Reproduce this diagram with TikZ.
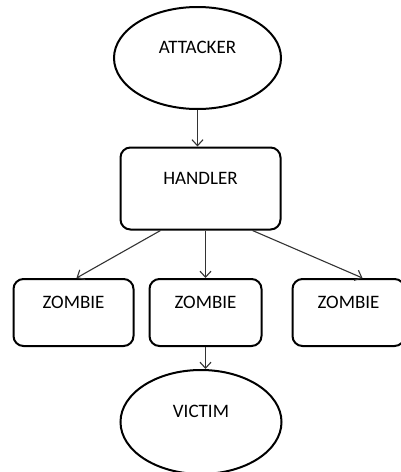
\documentclass[tikz,border=0pt]{standalone}
\usepackage{fontspec}
\setmainfont{Carlito}
\usetikzlibrary{shapes.geometric,arrows.meta}
\tikzset{
  blob/.style={ellipse,draw,line width=2pt,inner sep=0pt,text depth=22pt,
    font=\fontsize{19}{21}\selectfont},
  box/.style={rectangle,rounded corners=10pt,draw,line width=2pt,inner sep=0pt,
    text depth=20pt,font=\fontsize{19}{21}\selectfont},
  link/.style={line width=1.1pt,draw=black!80,-{Straight Barb[length=6pt,width=11pt]}}
}
\begin{document}
\begin{tikzpicture}[x=1pt,y=1pt]
  \useasboundingbox (0,0) rectangle (401,-472);
  % top and handler
  \node[blob,minimum width=167pt,minimum height=102pt] (attacker) at (197.5,-58) {ATTACKER};
  \node[box,minimum width=160pt,minimum height=82pt] (handler) at (200.5,-188.5) {HANDLER};
  % zombies
  \node[box,minimum width=120pt,minimum height=67pt] (zombieA) at (73.5,-312.5) {ZOMBIE};
  \node[box,minimum width=112pt,minimum height=67pt] (zombieB) at (205.5,-312.5) {ZOMBIE};
  \node[box,minimum width=112pt,minimum height=67pt] (zombieC) at (348.5,-312.5) {ZOMBIE};
  \node[blob,minimum width=161pt,minimum height=104pt] (victim) at (201,-422) {VICTIM};
  % arrows
  \draw[link] (attacker.south) -- (attacker.south |- handler.north);
  \draw[link] ([xshift=-40pt]handler.south) -- ([xshift=3pt]zombieA.north);
  \draw[link] ([xshift=5pt]handler.south) -- ([xshift=5pt]handler.south |- zombieB.north);
  \draw[link] ([xshift=52pt]handler.south) -- ([xshift=14pt]zombieC.north);
  \draw[link] (zombieB.south) -- (zombieB.south |- victim.north);
\end{tikzpicture}
\end{document}
